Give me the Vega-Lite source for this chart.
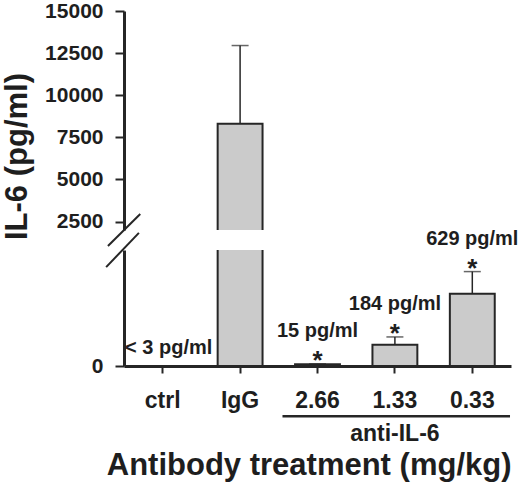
{
  "$schema": "https://vega.github.io/schema/vega-lite/v6.json",
  "description": "IL-6 levels by antibody treatment, broken y axis",
  "background": "white",
  "padding": {"left": 1, "top": 0, "right": 2, "bottom": 2},
  "bounds": "flush",
  "datasets": {
    "il6": [
      {"treatment": "ctrl", "il6": 0, "upper": null, "label": "< 3 pg/ml", "sig": ""},
      {"treatment": "IgG", "il6": 8300, "upper": 12950, "label": "", "sig": ""},
      {"treatment": "2.66", "il6": 15, "upper": 18, "label": "15 pg/ml", "sig": "*"},
      {"treatment": "1.33", "il6": 184, "upper": 253, "label": "184 pg/ml", "sig": "*"},
      {"treatment": "0.33", "il6": 629, "upper": 822, "label": "629 pg/ml", "sig": "*"}
    ]
  },
  "vconcat": [
    {
      "width": 387,
      "height": 219,
      "data": {"name": "il6"},
      "encoding": {
        "x": {"field": "treatment", "type": "nominal", "sort": null, "axis": null,
              "scale": {"paddingInner": 0.42, "paddingOuter": 0.21}}
      },
      "layer": [
        {
          "mark": {"type": "bar", "clip": true, "fill": "#cbcbcb", "stroke": "#262626", "strokeWidth": 2},
          "encoding": {
            "y": {"field": "il6", "type": "quantitative",
                  "scale": {"domain": [2000, 15000], "nice": false, "zero": false},
                  "axis": {"values": [2500, 5000, 7500, 10000, 12500, 15000], "format": "d",
                           "labelPadding": 12, "title": "IL-6 (pg/ml)", "titleY": 145, "titlePadding": 11}},
            "y2": {"datum": 0}
          }
        },
        {
          "mark": {"type": "rule", "clip": true, "color": "#262626", "strokeWidth": 1.5},
          "encoding": {
            "y": {"field": "il6", "type": "quantitative"},
            "y2": {"field": "upper"}
          }
        },
        {
          "mark": {"type": "tick", "clip": true, "color": "#262626", "thickness": 1.5, "size": 17},
          "encoding": {
            "y": {"field": "upper", "type": "quantitative"}
          }
        },
        {
          "data": {"values": [{}]},
          "mark": {"type": "rule", "color": "#262626", "strokeWidth": 2},
          "encoding": {
            "x": {"datum": "ctrl", "type": "nominal", "bandPosition": -0.72},
            "x2": {"datum": "ctrl", "bandPosition": 0},
            "y": {"datum": 1048, "type": "quantitative"},
            "y2": {"datum": 2952}
          }
        }
      ]
    },
    {
      "width": 387,
      "height": 116,
      "data": {"name": "il6"},
      "encoding": {
        "x": {"field": "treatment", "type": "nominal", "sort": null,
              "scale": {"paddingInner": 0.42, "paddingOuter": 0.21},
              "axis": {"title": "Antibody treatment (mg/kg)", "labelAngle": 0, "labelPadding": 16,
                       "labelFontSize": 23, "tickSize": 7, "titleFontSize": 31,
                       "titleAnchor": "end", "titlePadding": 38}}
      },
      "layer": [
        {
          "mark": {"type": "bar", "clip": true, "fill": "#cbcbcb", "stroke": "#262626", "strokeWidth": 2},
          "encoding": {
            "y": {"field": "il6", "type": "quantitative",
                  "scale": {"domain": [0, 1010], "nice": false},
                  "axis": {"values": [0], "labelPadding": 12, "title": null}},
            "y2": {"datum": 0}
          }
        },
        {
          "mark": {"type": "rule", "clip": true, "color": "#262626", "strokeWidth": 1.5},
          "encoding": {
            "y": {"field": "il6", "type": "quantitative"},
            "y2": {"field": "upper"}
          }
        },
        {
          "mark": {"type": "tick", "clip": true, "color": "#262626", "thickness": 1.5, "size": 17},
          "encoding": {
            "y": {"field": "upper", "type": "quantitative"}
          }
        },
        {
          "transform": [{"filter": "datum.sig == '*'"}],
          "mark": {"type": "text", "fontSize": 26, "fontWeight": "bold", "color": "#1e1e1e", "baseline": "middle", "dy": -3},
          "encoding": {
            "y": {"field": "upper", "type": "quantitative"},
            "text": {"field": "sig"}
          }
        },
        {
          "transform": [{"filter": "datum.sig == '*'"}],
          "mark": {"type": "text", "fontSize": 20, "fontWeight": "bold", "color": "#1e1e1e", "baseline": "middle", "dy": -33},
          "encoding": {
            "y": {"field": "upper", "type": "quantitative"},
            "text": {"field": "label"}
          }
        },
        {
          "transform": [{"filter": "datum.treatment == 'ctrl'"}],
          "mark": {"type": "text", "fontSize": 20, "fontWeight": "bold", "color": "#1e1e1e", "baseline": "middle", "dy": -18, "dx": 6},
          "encoding": {
            "y": {"field": "il6", "type": "quantitative"},
            "text": {"field": "label"}
          }
        },
        {
          "data": {"values": [{"name": "anti-IL-6"}]},
          "mark": {"type": "rule", "color": "#262626", "strokeWidth": 2.5},
          "encoding": {
            "x": {"datum": "2.66", "type": "nominal", "bandPosition": -0.28},
            "x2": {"datum": "0.33", "bandPosition": 1.34},
            "y": {"datum": -438, "type": "quantitative"}
          }
        },
        {
          "data": {"values": [{"name": "anti-IL-6"}]},
          "mark": {"type": "text", "fontSize": 23, "fontWeight": "bold", "color": "#1e1e1e", "baseline": "middle"},
          "encoding": {
            "x": {"datum": "1.33", "type": "nominal"},
            "y": {"datum": -595, "type": "quantitative"},
            "text": {"field": "name"}
          }
        },
        {
          "data": {"values": [{}]},
          "mark": {"type": "rule", "color": "#262626", "strokeWidth": 2},
          "encoding": {
            "x": {"datum": "ctrl", "type": "nominal", "bandPosition": -0.76},
            "x2": {"datum": "ctrl", "bandPosition": -0.03},
            "y": {"datum": 861, "type": "quantitative"},
            "y2": {"datum": 1159}
          }
        }
      ]
    }
  ],
  "spacing": 20,
  "config": {
    "font": "Liberation Sans",
    "view": {"stroke": null},
    "axis": {
      "domainColor": "#262626",
      "domainWidth": 3,
      "tickColor": "#262626",
      "tickWidth": 2,
      "tickSize": 9,
      "grid": false,
      "labelFont": "Liberation Sans",
      "labelFontSize": 21,
      "labelFontWeight": "bold",
      "labelColor": "#1e1e1e",
      "labelPadding": 3,
      "titleFont": "Liberation Sans",
      "titleFontSize": 31,
      "titleFontWeight": "bold",
      "titleColor": "#1e1e1e"
    }
  }
}
